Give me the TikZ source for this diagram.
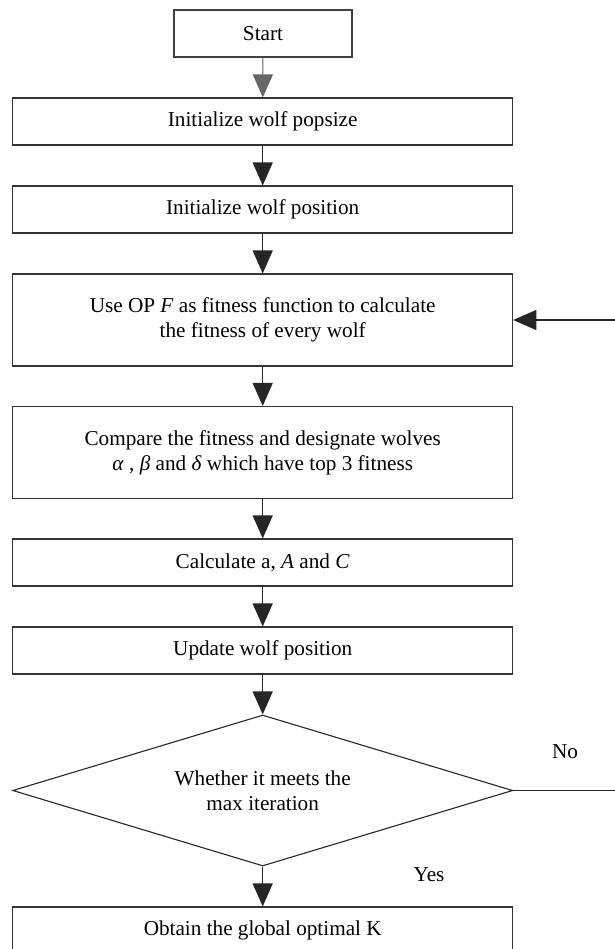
\documentclass[tikz,border=0pt]{standalone}
\usepackage{fontspec}
\setmainfont{Liberation Serif}
\usetikzlibrary{arrows.meta,shapes.geometric}

\begin{document}
\begin{tikzpicture}[x=0.5pt, y=-0.5pt, font=\fontsize{10.6}{12.5}\selectfont,
  >={Triangle[length=11.5pt, width=10pt]},
  line width=0.55pt,
  startbox/.style={rectangle, draw=black!75, minimum width=89pt, minimum height=23.5pt, align=center, inner sep=0pt},
  process/.style={rectangle, draw=black!80, minimum width=250pt, minimum height=23.5pt, align=center, inner sep=0pt},
  tallprocess/.style={process, minimum height=46pt},
  decision/.style={diamond, draw=black!85, aspect=3.31, minimum width=250pt, minimum height=75.5pt, align=center, inner sep=0pt},
  flow/.style={->, draw=black!85},
  edgelabel/.style={inner sep=1pt}]
\useasboundingbox (0,0) rectangle (615,949);

\node[startbox] (start) at (263, 33.5) {Start};
\node[process] (popsize) at (262.7, 121.5) {Initialize wolf popsize};
\node[process] (position) at (262.7, 209.5) {Initialize wolf position};
\node[tallprocess] (fitness) at (262.7, 320) {Use OP \textit{F} as fitness function to calculate\\the fitness of every wolf};
\node[tallprocess] (compare) at (262.7, 452.5) {Compare the fitness and designate wolves\\\textit{α} , \textit{β} and \textit{δ} which have top 3 fitness};
\node[process] (calc) at (262.7, 562.5) {Calculate a, \textit{A} and \textit{C}};
\node[process] (update) at (262.7, 650.5) {Update wolf position};
\node[decision] (check) at (262.7, 790.5) {Whether it meets the\\max iteration};
\node[process] (obtain) at (262.7, 930.5) {Obtain the global optimal K};
\node[edgelabel] (nolabel) at (565, 752) {No};
\node[edgelabel] (yeslabel) at (429, 875) {Yes};
\coordinate (loopturn) at (640, 790.5);

\draw[flow, draw=black!60] (start) -- (popsize);
\draw[flow] (popsize) -- (position);
\draw[flow] (position) -- (fitness);
\draw[flow] (fitness) -- (compare);
\draw[flow] (compare) -- (calc);
\draw[flow] (calc) -- (update);
\draw[flow] (update) -- (check);
\draw[flow] (check) -- (obtain);
\draw[flow] (check.east) -- (loopturn) |- (fitness.east);
\end{tikzpicture}
\end{document}
